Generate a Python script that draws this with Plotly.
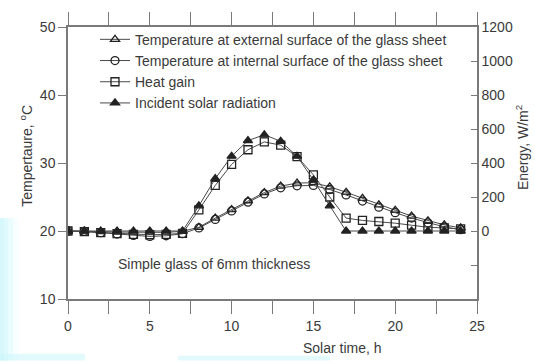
import plotly.graph_objects as go

# Solar time, hours
hours = list(range(0, 25))

# Glass sheet surface temperatures, degC
t_external = [20.0, 20.0, 19.9, 19.85, 19.8, 19.8, 19.8, 19.95, 20.55, 21.9, 23.15, 24.45,
              25.65, 26.6, 27.05, 27.1, 26.5, 25.7, 24.8, 23.85, 23.05, 22.2, 21.5, 20.9, 20.45]
t_internal = [20.0, 19.95, 19.75, 19.55, 19.35, 19.2, 19.3, 19.6, 20.45, 21.7, 22.95, 24.25,
              25.45, 26.35, 26.65, 26.7, 26.1, 25.3, 24.4, 23.5, 22.7, 21.9, 21.2, 20.6, 20.2]

# Energy terms, W/m2
heat_gain = [0, -4, -10, -16, -20, -22, -20, -14, 124, 268, 392, 478, 524, 505, 438, 330, 200,
             76, 62, 56, 46, 34, 22, 18, 12]
solar_radiation = [0, 0, 0, 0, 0, 0, 0, 0, 148, 308, 440, 532, 566, 528, 440, 300, 148,
                   0, 0, 0, 0, 0, 0, 0, 0]

# Axis ticks
x_ticks = [0, 5, 10, 15, 20, 25]
temp_ticks = [10, 20, 30, 40, 50]
energy_ticks = [0, 200, 400, 600, 800, 1000, 1200]
energy_minor = [-200]

FONT = "Liberation Sans, Arial, sans-serif"
FS = 14
TXT = "#3a3a3a"
LINE = "#4a4a4a"
AX = "#7a7a7a"

# Plot-area geometry in pixels, used to place page-level decorations
L, R, T, B = 68, 58, 16, 64
PW, PH = 535 - L - R, 363 - T - B


def px(x):
    return (x - L) / PW


def py(y):
    return (363 - B - y) / PH


fig = go.Figure()

series = [
    ("Temperature at external surface of the glass sheet", t_external, "y", "triangle-up-open"),
    ("Temperature at internal surface of the glass sheet", t_internal, "y", "circle-open"),
    ("Heat gain", heat_gain, "y2", "square-open"),
    ("Incident solar radiation", solar_radiation, "y2", "triangle-up"),
]
for name, vals, yax, sym in series:
    fig.add_trace(go.Scatter(
        x=hours, y=vals, name=name, yaxis=yax, mode="lines+markers",
        line=dict(color=LINE, width=1),
        marker=dict(symbol=sym, size=8, color="#222222",
                    line=dict(color="#222222", width=1.3)),
    ))

fig.update_layout(
    width=535, height=363,
    margin=dict(l=L, r=R, t=T, b=B),
    paper_bgcolor="white", plot_bgcolor="white",
    font=dict(family=FONT, size=FS, color=TXT),
    showlegend=True,
    legend=dict(x=px(95), y=1.012, xanchor="left", yanchor="top",
                bgcolor="rgba(0,0,0,0)", borderwidth=0,
                font=dict(size=FS, color=TXT), tracegroupgap=0,
                itemwidth=30),
    xaxis=dict(range=[0, 25], tickvals=x_ticks, showgrid=False, zeroline=False,
               showline=True, linecolor=AX, linewidth=1.5, mirror="allticks",
               ticks="outside", ticklen=13, tickwidth=1.3, tickcolor=AX,
               minor=dict(dtick=2.5, ticks="outside", ticklen=6, tickwidth=1.2, tickcolor=AX),
               tickfont=dict(size=FS, color=TXT)),
    yaxis=dict(range=[10, 50], tickvals=temp_ticks, showgrid=False, zeroline=False,
               showline=True, linecolor=AX, linewidth=1.5,
               ticks="outside", ticklen=8, tickwidth=1.3, tickcolor=AX,
               tickfont=dict(size=FS, color=TXT)),
    yaxis2=dict(range=[-400, 1200], overlaying="y", side="right",
                tickvals=energy_ticks, showgrid=False, zeroline=False,
                showline=True, linecolor=AX, linewidth=1.5,
                ticks="inside", ticklen=6, tickwidth=1.3, tickcolor=AX,
                minor=dict(tickvals=energy_minor, ticks="inside", ticklen=6,
                           tickwidth=1.3, tickcolor=AX, showgrid=False),
                tickfont=dict(size=FS, color=TXT)),
)

# Pale cyan tint along the lower-left edge and bottom of the page
for w, op in [(4, 0.3), (8, 0.25), (13, 0.2), (18, 0.12)]:
    fig.add_shape(type="rect", xref="paper", yref="paper", layer="below",
                  x0=px(0), x1=px(w), y0=py(363), y1=py(215),
                  fillcolor="#bff3fb", opacity=op, line_width=0)
fig.add_shape(type="rect", xref="paper", yref="paper", layer="below",
              x0=px(0), x1=px(85), y0=py(363), y1=py(356),
              fillcolor="#c8f5fb", opacity=0.5, line_width=0)
fig.add_shape(type="rect", xref="paper", yref="paper", layer="below",
              x0=px(178), x1=px(330), y0=py(363), y1=py(358),
              fillcolor="#c8f5fb", opacity=0.5, line_width=0)

common = dict(showarrow=False, xref="paper", yref="paper",
              xanchor="center", yanchor="middle", font=dict(size=FS, color=TXT))
annotations = [
    dict(text="Simple glass of 6mm thickness", x=px(214), y=py(263), **common),
    dict(text="Solar time, h", x=px(342), y=py(350), **common),
    dict(text="Tempertaure, <sup>o</sup>C", x=px(26), y=py(150), textangle=-90, **common),
    dict(text="Energy, W/m<sup>2</sup>", x=px(522), y=py(142), textangle=-90, **common),
]
fig.update_layout(annotations=annotations)

fig.write_html("out.html")
